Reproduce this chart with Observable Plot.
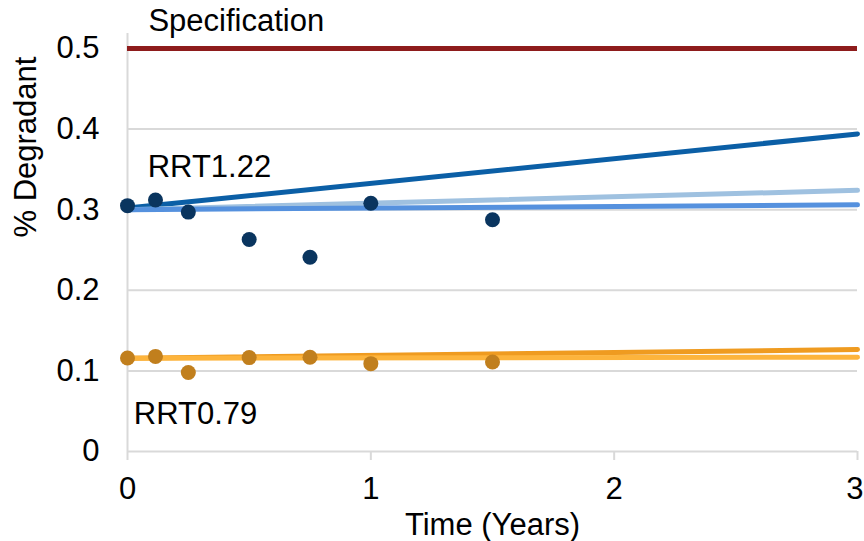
<!DOCTYPE html>
<html><head><meta charset="utf-8">
<script src="https://cdn.jsdelivr.net/npm/d3@7"></script>
<script src="https://cdn.jsdelivr.net/npm/@observablehq/plot@0.6"></script>
<style>body{margin:0;background:#fff}</style>
</head><body><div id="chart"></div>
<script>
// Data
const times   = [0, 0.115, 0.25, 0.5, 0.75, 1, 1.5];
const rrt122  = [0.305, 0.312, 0.297, 0.263, 0.241, 0.308, 0.2875];
const rrt079  = [0.116, 0.118, 0.098, 0.1165, 0.117, 0.109, 0.111];
const fitYears = [0, 3];
const fitNames = ["RRT1.22 fit A", "RRT1.22 fit B", "RRT1.22 fit C", "RRT0.79 fit A", "RRT0.79 fit B"];
const fitStart = [0.302, 0.300, 0.300, 0.1158, 0.1158];
const fitEnd   = [0.394, 0.324, 0.306, 0.1265, 0.117];
const fitColors = ["#0b5fa6", "#9fc1e0", "#5591de", "#ef9b20", "#fdb43c"];
const specLimit = 0.5;
const yTicks = [0, 0.1, 0.2, 0.3, 0.4, 0.5];
const yTickLabels = ["0", "0.1", "0.2", "0.3", "0.4", "0.5"];
const xTicks = [0, 1, 2, 3];
const labelTexts = ["Specification", "RRT1.22", "RRT0.79"];
const labelX = [0.086, 0.083, 0.026];
const labelY = [0.522, 0.340, 0.0347];

// Tables built from the arrays
const pts122 = times.map((t, i) => ({t, v: rrt122[i]}));
const pts079 = times.map((t, i) => ({t, v: rrt079[i]}));
const fits = fitNames.flatMap((name, i) => fitYears.map((t, j) => ({name, t, v: j === 0 ? fitStart[i] : fitEnd[i]})));
const labels = labelTexts.map((text, i) => ({text, x: labelX[i], y: labelY[i]}));
const xInner = xTicks.slice(0, -1);
const xLast = xTicks.slice(-1);

const grid = "#d9d9d9";
const font = "'Liberation Sans', Arial, sans-serif";

const chart = Plot.plot({
  width: 864,
  height: 541,
  marginLeft: 127,
  marginRight: 7,
  marginTop: 33,
  marginBottom: 90,
  style: {fontFamily: font, fontSize: "31px", color: "black", background: "white"},
  x: {domain: [0, 3]},
  y: {domain: [0, 0.5186]},
  color: {domain: fitNames, range: fitColors},
  marks: [
    Plot.gridY(yTicks.slice(1), {stroke: grid, strokeOpacity: 1, strokeWidth: 2}),
    Plot.ruleY([0], {stroke: grid, strokeWidth: 2}),
    Plot.ruleX([0], {stroke: grid, strokeWidth: 2}),
    Plot.axisX(xTicks, {tickSize: 9, stroke: grid, strokeWidth: 2, text: null, label: null}),
    Plot.axisX(xInner, {tickSize: 9, tickPadding: 16, stroke: "none", fill: "black", fontSize: 31, label: null, tickFormat: d => String(d)}),
    Plot.axisX(xLast, {tickSize: 9, tickPadding: 16, stroke: "none", fill: "black", fontSize: 31, label: null, textAnchor: "end", dx: 6, tickFormat: d => String(d)}),
    Plot.axisY(yTicks, {tickSize: 0, tickPadding: 28, fill: "black", fontSize: 31, label: null, tickFormat: (d, i) => yTickLabels[i]}),
    Plot.line(fits, {x: "t", y: "v", z: "name", stroke: "name", strokeWidth: 5, strokeLinecap: "round"}),
    Plot.ruleY([specLimit], {stroke: "#8e1c1c", strokeWidth: 5}),
    Plot.dot(pts122, {x: "t", y: "v", r: 7.5, fill: "#0a355f", stroke: "none"}),
    Plot.dot(pts079, {x: "t", y: "v", r: 7.5, fill: "#c17f1d", stroke: "none"}),
    Plot.text(labels, {x: "x", y: "y", text: "text", textAnchor: "start", lineAnchor: "bottom", fontSize: 31, fill: "black"}),
    Plot.text(["Time (Years)"], {frameAnchor: "bottom", lineAnchor: "bottom", dy: 83, fontSize: 31, fill: "black"}),
    Plot.text(["% Degradant"], {frameAnchor: "left", rotate: -90, lineAnchor: "bottom", dx: -92, dy: -5, fontSize: 31, fill: "black"})
  ]
});
document.getElementById("chart").appendChild(chart);
</script>
</body></html>
